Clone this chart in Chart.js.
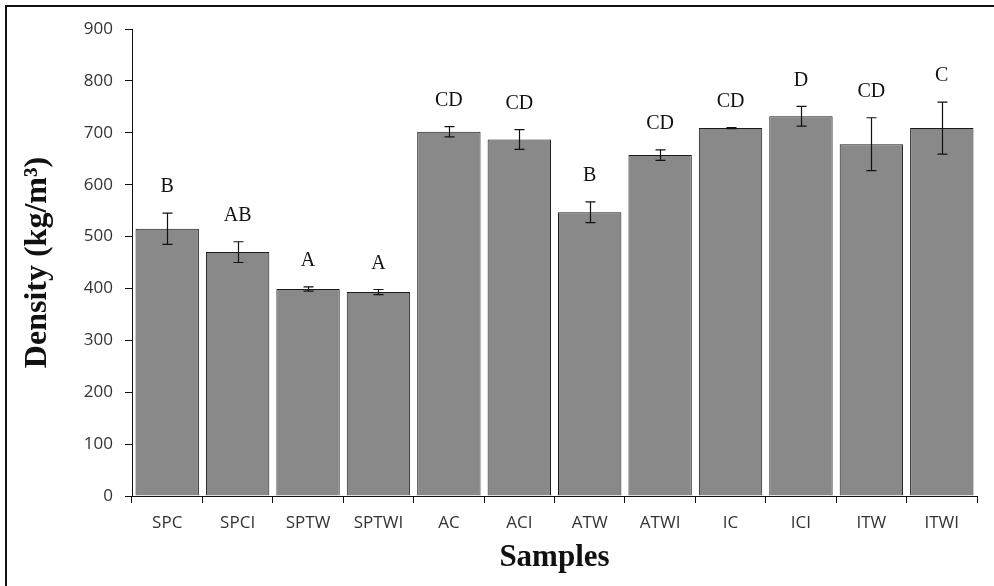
<!DOCTYPE html>
<html>
<head>
<meta charset="utf-8">
<title>Density of samples</title>
<script src="https://cdn.jsdelivr.net/npm/chart.js@4"></script>
<style>
  html, body { margin: 0; padding: 0; background: #fff; }
  #wrap { position: relative; width: 994px; height: 586px; }
</style>
</head>
<body>
<div id="wrap"><canvas id="densityChart" width="994" height="586"></canvas></div>
<script>
const samples = ["SPC", "SPCI", "SPTW", "SPTWI", "AC", "ACI", "ATW", "ATWI", "IC", "ICI", "ITW", "ITWI"];
const density = [515, 470, 399, 393, 702, 687, 547, 657, 709, 732, 678, 709];
const densityError = [30, 20, 4, 5, 10, 19, 20, 10, 1, 19, 51, 50];
const groupLetters = ["B", "AB", "A", "A", "CD", "CD", "B", "CD", "CD", "D", "CD", "C"];
const yTicks = [0, 100, 200, 300, 400, 500, 600, 700, 800, 900];

// error bars and the significance letters above them
const errorBarPlugin = {
  id: "errorBars",
  afterDatasetsDraw(chart) {
    const ctx = chart.ctx;
    const yScale = chart.scales.y;
    const meta = chart.getDatasetMeta(0);
    ctx.save();
    ctx.strokeStyle = "#111";
    ctx.lineWidth = 1.2;
    meta.data.forEach((bar, i) => {
      const top = yScale.getPixelForValue(density[i] + densityError[i]);
      const bottom = yScale.getPixelForValue(density[i] - densityError[i]);
      const x = Math.round(bar.x) + 0.5;
      ctx.beginPath();
      ctx.moveTo(x, top);
      ctx.lineTo(x, bottom);
      ctx.moveTo(x - 5, top);
      ctx.lineTo(x + 5, top);
      ctx.moveTo(x - 5, bottom);
      ctx.lineTo(x + 5, bottom);
      ctx.stroke();

      ctx.fillStyle = "#111";
      ctx.font = "20px 'Liberation Serif', 'Times New Roman', serif";
      ctx.textAlign = "center";
      ctx.textBaseline = "middle";
      ctx.fillText(groupLetters[i], bar.x, top - 26);
    });
    ctx.restore();
  }
};

// frame line on the left and top of the figure
const framePlugin = {
  id: "frame",
  afterDraw(chart) {
    const ctx = chart.ctx;
    ctx.save();
    ctx.fillStyle = "#111";
    ctx.fillRect(5, 5, 2, chart.height - 5);
    ctx.fillRect(5, 5, chart.width - 5, 2);
    ctx.restore();
  }
};

document.addEventListener("DOMContentLoaded", function() {
  const ctx = document.getElementById("densityChart").getContext("2d");
  new Chart(ctx, {
    type: "bar",
    data: {
      labels: samples,
      datasets: [{
        label: "Density",
        data: density,
        backgroundColor: "#898989",
        borderColor: "#1a1a1a",
        borderWidth: 1,
        barPercentage: 0.9,
        categoryPercentage: 1.0
      }]
    },
    options: {
      responsive: false,
      animation: false,
      layout: { padding: { left: 10, right: 17, top: 29, bottom: 0 } },
      plugins: {
        legend: { display: false },
        tooltip: { enabled: false }
      },
      scales: {
        x: {
          afterFit: (scale) => { scale.height = 90; },
          grid: { drawOnChartArea: false, tickLength: 7, tickColor: "#111", offset: true },
          border: { color: "#111", width: 1 },
          ticks: {
            color: "#333",
            padding: 10,
            font: { family: "'Open Sans', sans-serif", size: 17 }
          },
          title: {
            display: true,
            text: "Samples",
            color: "#111",
            padding: { top: 0, bottom: 9 },
            font: { family: "'Liberation Serif', 'Times New Roman', serif", size: 31, weight: "bold" }
          }
        },
        y: {
          min: 0,
          max: 900,
          afterFit: (scale) => { scale.width = 122; },
          afterBuildTicks: (scale) => { scale.ticks = yTicks.map(v => ({ value: v })); },
          grid: { drawOnChartArea: false, tickLength: 7, tickColor: "#111" },
          border: { color: "#111", width: 1 },
          ticks: {
            color: "#333",
            padding: 12,
            font: { family: "'Open Sans', sans-serif", size: 17 }
          },
          title: {
            display: true,
            text: "Density (kg/m³)",
            color: "#111",
            padding: { top: 9, bottom: 0 },
            font: { family: "'Liberation Serif', 'Times New Roman', serif", size: 32, weight: "bold" }
          }
        }
      }
    },
    plugins: [errorBarPlugin, framePlugin]
  });
});
</script>
</body>
</html>
